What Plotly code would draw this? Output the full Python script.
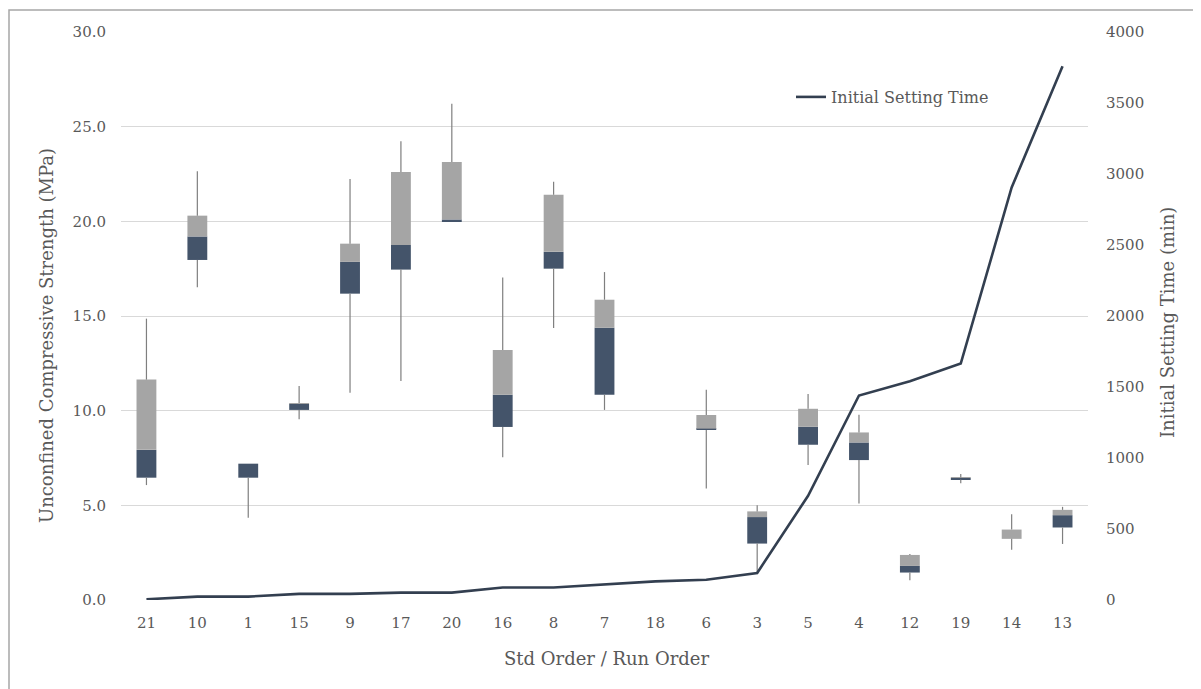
import plotly.graph_objects as go

categories = ["21", "10", "1", "15", "9", "17", "20", "16", "8", "7",
              "18", "6", "3", "5", "4", "12", "19", "14", "13"]
ucs_min = [6.07, 16.52, 4.34, 9.55, 10.95, 11.57, 20.00, 7.54, 14.36, 10.04,
           None, 5.89, 1.45, 7.13, 5.10, 1.04, 6.16, 2.65, 2.96]
ucs_q1 = [6.46, 17.96, 6.46, 10.04, 16.18, 17.45, 20.00, 9.14, 17.50, 10.84,
          None, 8.98, 2.98, 8.20, 7.39, 1.45, 6.36, 3.23, 3.83]
ucs_median = [7.93, 19.20, 7.20, 10.36, 17.86, 18.75, 20.10, 10.84, 18.39, 14.38,
              None, 9.05, 4.38, 9.15, 8.32, 1.80, 6.45, 3.23, 4.48]
ucs_q3 = [11.64, 20.30, 7.20, 10.40, 18.82, 22.60, 23.13, 13.20, 21.41, 15.86,
          None, 9.77, 4.68, 10.10, 8.85, 2.38, 6.47, 3.72, 4.76]
ucs_max = [14.86, 22.64, 7.20, 11.30, 22.23, 24.23, 26.21, 17.04, 22.09, 17.32,
           None, 11.11, 5.00, 10.88, 9.79, 2.43, 6.65, 4.53, 4.92]
setting_time = [5, 24, 24, 43, 43, 52, 52, 88, 88, 107,
                131, 143, 190, 734, 1440, 1540, 1665, 2905, 3759]

FONT = "DejaVu Serif"
DARK = "#44546A"
GRAY = "#A5A5A5"
WHISK = "#7F7F7F"
TXT = "#595959"

fig = go.Figure()

# whiskers (two segments each, so they don't cross the boxes)
wx, wy = [], []
for c, lo, q1, q3, hi in zip(categories, ucs_min, ucs_q1, ucs_q3, ucs_max):
    if lo is None:
        continue
    if hi > q3:
        wx += [c, c, None]
        wy += [q3, hi, None]
    if q1 > lo:
        wx += [c, c, None]
        wy += [lo, q1, None]
fig.add_trace(go.Scatter(x=wx, y=wy, mode="lines", line=dict(color=WHISK, width=1.2),
                         showlegend=False, hoverinfo="skip"))

lower_h = [None if a is None else m - a for a, m in zip(ucs_q1, ucs_median)]
upper_h = [None if a is None else q - a for a, q in zip(ucs_median, ucs_q3)]

fig.add_trace(go.Bar(x=categories, y=lower_h, base=ucs_q1, marker=dict(color=DARK, line_width=0),
                     width=0.39, showlegend=False, name="Q1-Median"))
fig.add_trace(go.Bar(x=categories, y=upper_h, base=ucs_median, marker=dict(color=GRAY, line_width=0),
                     width=0.39, showlegend=False, name="Median-Q3"))

fig.add_trace(go.Scatter(x=categories, y=setting_time, mode="lines", yaxis="y2",
                         name="Initial Setting Time",
                         line=dict(color="#333F50", width=2.6)))


def px_x(a):
    return (a - 121) / 967


def px_y(a):
    return (600 - a) / 568


fig.update_layout(
    width=1193, height=681,
    margin=dict(l=113, r=113, t=24, b=89),
    plot_bgcolor="white", paper_bgcolor="white",
    font=dict(family=FONT, color=TXT, size=15),
    barmode="overlay",
    xaxis=dict(
        type="category", categoryorder="array", categoryarray=categories,
        showgrid=False, showline=False, ticks="", zeroline=False,
        ticklabelstandoff=12,
        tickfont=dict(size=15, color=TXT),
    ),
    yaxis=dict(
        range=[0, 30], tickvals=[0, 5, 10, 15, 20, 25, 30],
        ticktext=["0.0", "5.0", "10.0", "15.0", "20.0", "25.0", "30.0"],
        showgrid=True, gridcolor="#D9D9D9", gridwidth=1, zeroline=False,
        showline=False, ticks="", ticklabelstandoff=14,
        tickfont=dict(size=15, color=TXT),
    ),
    yaxis2=dict(
        range=[0, 4000], tickvals=list(range(0, 4001, 500)),
        overlaying="y", side="right", showgrid=False, zeroline=False,
        showline=False, ticks="", ticklabelstandoff=17,
        tickfont=dict(size=15, color=TXT),
    ),
    legend=dict(x=px_x(791), y=px_y(97), xanchor="left", yanchor="middle",
                bgcolor="rgba(0,0,0,0)", font=dict(size=16, color=TXT),
                itemwidth=30),
    annotations=[
        dict(text="Unconfined Compressive Strength (MPa)", xref="paper", yref="paper",
             x=px_x(46), y=px_y(336), textangle=-90, showarrow=False,
             xanchor="center", yanchor="middle", font=dict(size=18, color=TXT)),
        dict(text="Initial Setting Time (min)", xref="paper", yref="paper",
             x=px_x(1168), y=px_y(323), textangle=-90, showarrow=False,
             xanchor="center", yanchor="middle", font=dict(size=18, color=TXT)),
        dict(text="Std Order / Run Order", xref="paper", yref="paper",
             x=px_x(606), y=px_y(658), showarrow=False,
             xanchor="center", yanchor="middle", font=dict(size=18, color=TXT)),
    ],
    shapes=[dict(type="rect", xref="paper", yref="paper",
                 x0=px_x(9), x1=px_x(1215),
                 y0=px_y(700), y1=px_y(10),
                 line=dict(color="#A6A6A6", width=1.5), layer="below")],
)

fig.write_html("out.html")
